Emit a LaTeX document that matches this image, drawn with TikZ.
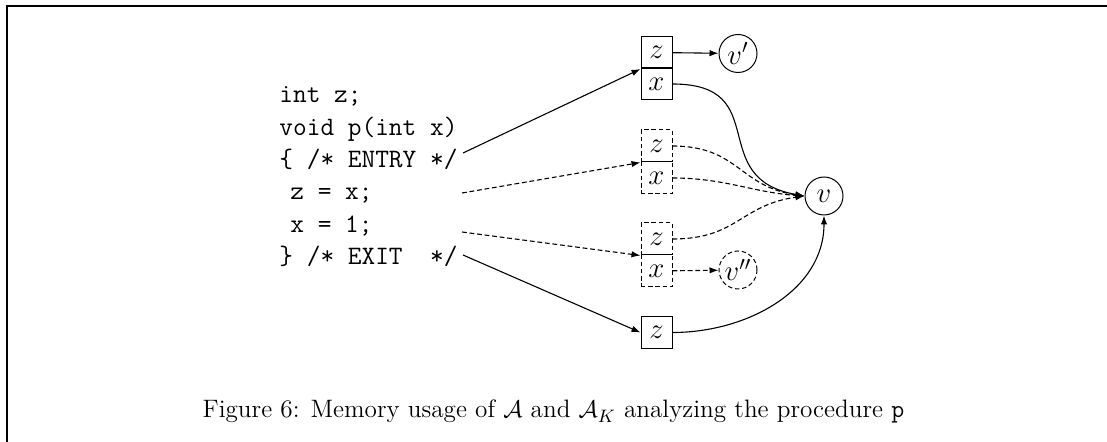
\documentclass[tikz,border=0pt]{standalone}
\usepackage{fontspec}
\usetikzlibrary{arrows.meta}
\begin{document}
\begin{tikzpicture}[x=0.5pt,y=-0.5pt,
  cell/.style={draw, line width=0.5pt, minimum width=15.5pt, minimum height=16pt,
               inner sep=0pt, font=\fontsize{14}{16}\selectfont},
  dcell/.style={cell, dash pattern=on 2.2pt off 1.4pt},
  val/.style={draw, circle, line width=0.5pt, minimum size=19pt, inner sep=0pt,
              font=\fontsize{14}{16}\selectfont},
  dval/.style={val, dash pattern=on 2.2pt off 1.4pt},
  code/.style={anchor=base west, inner sep=0pt, font=\fontsize{13.3}{16}\selectfont\ttfamily},
  link/.style={line width=0.55pt, -{Latex[length=4.5pt,width=3.2pt]}},
  dlink/.style={link, dash pattern=on 2.4pt off 1.4pt}]
\useasboundingbox (0,0) rectangle (1107,442);

% frame
\draw[line width=1pt] (7,442) -- (7,6.5) -- (1107,6.5);

% source of procedure p
\node[code] (c1) at (279,103)   {int z;};
\node[code] (c2) at (279,135.5) {void p(int x)};
\node[code] (c3) at (279,168)   {\{ /* ENTRY */};
\node[code] (c4) at (279,200)   {\hspace{5.5pt}z = x;};
\node[code] (c5) at (279,232.5) {\hspace{5.5pt}x = 1;};
\node[code] (c6) at (279,265)   {\} /* EXIT\ \ */};

% memory cells
\node[cell]  (z1) at (656.5,52.5) {$z$};
\node[cell]  (x1) at (656.5,84)   {$x$};
\node[dcell] (z2) at (656.5,146)  {$z$};
\node[dcell] (x2) at (656.5,178)  {$x$};
\node[dcell] (z3) at (656.5,239)  {$z$};
\node[dcell] (x3) at (656.5,271)  {$x$};
\node[cell]  (z4) at (656.5,332.5) {$z$};

% values
\node[val]  (vp)  at (738,53.5) {$v'$};
\node[dval] (vpp) at (738,270)  {$v''$};
\node[val]  (v)   at (824,196)  {$v$};

% program points
\coordinate (s1) at (463,153);
\coordinate (s2) at (462,193);
\coordinate (s3) at (462,232);
\coordinate (s4) at (463,255);

\draw[link]  (s1) -- (z1.south west);
\draw[dlink] (s2) -- (z2.south west);
\draw[dlink] (s3) -- (z3.south west);
\draw[link]  (s4) -- (z4.west);

\draw[link]  (z1) -- (vp);
\draw[dlink] (x3) -- (vpp);
\draw[link]  (x1.east) to[out=0,in=170,looseness=1.5] (v.west);
\draw[dlink] (z2.east) to[out=0,in=172,looseness=1.2] (v.west);
\draw[dlink] (x2.east) to[out=0,in=176] (v.west);
\draw[dlink] (z3.east) to[out=0,in=188,looseness=1.2] (v.west);
\draw[link]  (z4.east) to[out=0,in=-90] (v.south);

% caption
\node[anchor=base, inner sep=0pt, font=\fontsize{12.6}{15}\selectfont] (cap) at (553.5,418)
  {Figure 6: Memory usage of $\mathcal{A}$ and $\mathcal{A}_K$ analyzing the procedure \texttt{p}};
\end{tikzpicture}
\end{document}
